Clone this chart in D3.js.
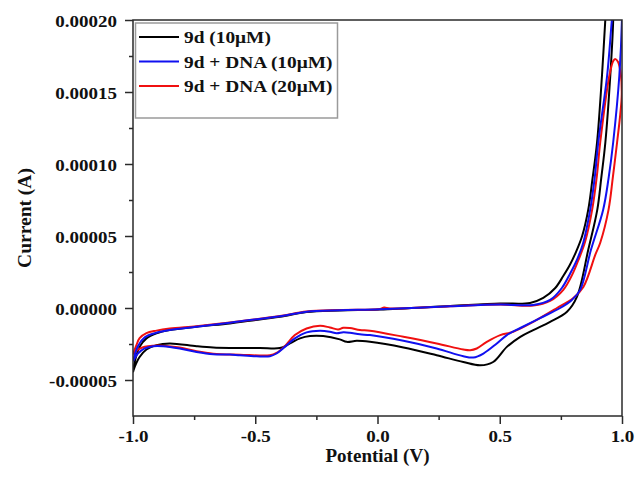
<!DOCTYPE html>
<html><head><meta charset="utf-8">
<script src="https://cdn.jsdelivr.net/npm/d3@7"></script>
<style>body{margin:0;background:#fff}svg{display:block}</style>
</head><body><div id="chart"></div>
<script>
// ---- data ----
const seriesNames = ["9d (10\u03bcM)", "9d + DNA (10\u03bcM)", "9d + DNA (20\u03bcM)"];
const seriesColors = ["#000000", "#1010f0", "#f01010"];
const xTicks = [-1.0, -0.5, 0.0, 0.5, 1.0];
const xTickLabels = ["-1.0", "-0.5", "0.0", "0.5", "1.0"];
const xMinor = [-0.75, -0.25, 0.25, 0.75];
const yTicks = [-0.00005, 0.0, 0.00005, 0.00010, 0.00015, 0.00020];
const yTickLabels = ["-0.00005", "0.00000", "0.00005", "0.00010", "0.00015", "0.00020"];
const yMinor = [-0.000025, 0.000025, 0.000075, 0.000125, 0.000175];

// [potential V, current A] loops: forward branch then reverse branch
const cv9d = [
 [-1.0,-4.46e-5],[-0.993,-3.75e-5],[-0.973,-2.70e-5],[-0.945,-2.11e-5],[-0.904,-1.76e-5],[-0.850,-1.53e-5],
 [-0.740,-1.30e-5],[-0.604,-1.07e-5],[-0.522,-0.89e-5],[-0.399,-0.61e-5],[-0.290,-0.28e-5],[-0.154,-0.17e-5],
 [0.010,-0.10e-5],[0.297,0.14e-5],[0.502,0.31e-5],[0.624,0.35e-5],[0.678,0.70e-5],[0.727,1.39e-5],
 [0.759,2.20e-5],[0.787,3.00e-5],[0.812,3.90e-5],[0.837,5.00e-5],[0.862,6.83e-5],[0.879,8.93e-5],[0.898,1.151e-4],[0.918,1.611e-4],
 [0.932,2.009e-4],[0.955,2.60e-4],[0.966,2.40e-4],[0.964,2.00e-4],[0.952,1.611e-4],[0.932,1.151e-4],
 [0.915,9.00e-5],[0.899,6.83e-5],[0.862,4.04e-5],[0.816,0.79e-5],[0.775,-0.26e-5],[0.706,-0.96e-5],[0.637,-1.53e-5],
 [0.584,-2.00e-5],[0.529,-2.70e-5],[0.473,-3.75e-5],[0.420,-3.98e-5],[0.351,-3.75e-5],[0.242,-3.28e-5],
 [0.106,-2.74e-5],[-0.031,-2.35e-5],[-0.085,-2.28e-5],[-0.126,-2.35e-5],[-0.154,-2.18e-5],[-0.222,-1.95e-5],
 [-0.276,-1.95e-5],[-0.317,-2.11e-5],[-0.358,-2.46e-5],[-0.399,-2.78e-5],[-0.481,-2.77e-5],[-0.604,-2.77e-5],
 [-0.672,-2.74e-5],[-0.740,-2.65e-5],[-0.850,-2.46e-5],[-0.904,-2.58e-5],[-0.945,-2.88e-5],[-0.973,-3.40e-5],
 [-0.993,-4.09e-5],[-1.0,-4.46e-5]
];
const cvDNA10 = [
 [-1.0,-3.70e-5],[-0.980,-2.65e-5],[-0.952,-2.04e-5],[-0.904,-1.72e-5],[-0.850,-1.53e-5],[-0.740,-1.30e-5],
 [-0.604,-1.03e-5],[-0.522,-0.84e-5],[-0.399,-0.58e-5],[-0.290,-0.26e-5],[-0.154,-0.16e-5],[0.010,-0.09e-5],
 [0.297,0.12e-5],[0.502,0.24e-5],[0.637,0.21e-5],[0.706,0.56e-5],[0.754,1.39e-5],[0.788,2.40e-5],
 [0.817,3.40e-5],[0.841,4.50e-5],[0.870,6.83e-5],[0.889,9.14e-5],[0.903,1.151e-4],[0.939,1.611e-4],[0.959,2.009e-4],
 [0.985,2.50e-4],[1.0,2.30e-4],[1.0,2.02e-4],[0.989,1.611e-4],[0.964,1.151e-4],[0.945,9.00e-5],[0.923,6.83e-5],
 [0.873,4.04e-5],[0.829,1.26e-5],[0.795,0.56e-5],[0.747,0.0],[0.665,-0.70e-5],[0.584,-1.39e-5],
 [0.529,-1.88e-5],[0.488,-2.46e-5],[0.433,-3.16e-5],[0.392,-3.44e-5],[0.351,-3.35e-5],[0.242,-2.81e-5],
 [0.106,-2.28e-5],[-0.031,-1.88e-5],[-0.072,-1.83e-5],[-0.113,-1.72e-5],[-0.140,-1.69e-5],[-0.167,-1.76e-5],
 [-0.195,-1.65e-5],[-0.235,-1.58e-5],[-0.290,-1.69e-5],[-0.338,-2.11e-5],[-0.379,-2.70e-5],[-0.413,-3.16e-5],
 [-0.440,-3.35e-5],[-0.495,-3.35e-5],[-0.563,-3.28e-5],[-0.604,-3.23e-5],[-0.672,-3.21e-5],[-0.740,-3.05e-5],
 [-0.809,-2.81e-5],[-0.877,-2.65e-5],[-0.918,-2.65e-5],[-0.952,-2.81e-5],[-0.980,-3.16e-5],[-1.0,-3.70e-5]
];
const cvDNA20 = [
 [-1.0,-3.21e-5],[-0.986,-2.58e-5],[-0.973,-2.09e-5],[-0.945,-1.74e-5],[-0.904,-1.57e-5],[-0.850,-1.43e-5],
 [-0.740,-1.26e-5],[-0.604,-1.01e-5],[-0.399,-0.56e-5],[-0.290,-0.24e-5],[-0.154,-0.14e-5],[0.010,-0.07e-5],
 [0.027,0.03e-5],[0.051,-0.03e-5],[0.297,0.12e-5],[0.502,0.24e-5],[0.637,0.17e-5],[0.706,0.49e-5],
 [0.760,1.26e-5],[0.796,2.30e-5],[0.821,3.30e-5],[0.849,4.60e-5],[0.878,6.83e-5],[0.897,9.14e-5],[0.911,1.151e-4],
 [0.948,1.611e-4],[0.964,1.716e-4],[0.972,1.730e-4],[0.984,1.709e-4],[0.995,1.625e-4],[0.999,1.485e-4],
 [0.993,1.346e-4],[0.980,1.151e-4],[0.963,9.14e-5],[0.945,6.83e-5],[0.911,4.53e-5],[0.891,3.70e-5],
 [0.842,1.46e-5],[0.801,0.70e-5],[0.734,0.0],[0.637,-0.96e-5],[0.555,-1.65e-5],[0.502,-1.88e-5],
 [0.447,-2.35e-5],[0.406,-2.81e-5],[0.379,-2.93e-5],[0.351,-2.88e-5],[0.242,-2.46e-5],[0.106,-2.00e-5],
 [-0.031,-1.58e-5],[-0.072,-1.53e-5],[-0.113,-1.39e-5],[-0.140,-1.37e-5],[-0.161,-1.49e-5],[-0.195,-1.35e-5],
 [-0.235,-1.23e-5],[-0.290,-1.42e-5],[-0.338,-1.88e-5],[-0.379,-2.65e-5],[-0.413,-3.12e-5],[-0.440,-3.28e-5],
 [-0.563,-3.24e-5],[-0.672,-3.17e-5],[-0.740,-3.00e-5],[-0.809,-2.75e-5],[-0.877,-2.62e-5],[-0.918,-2.62e-5],
 [-0.952,-2.69e-5],[-0.980,-2.89e-5],[-1.0,-3.21e-5]
];
const seriesData = [cv9d, cvDNA10, cvDNA20];
const drawOrder = [0, 2, 1];

// ---- layout ----
const W = 636, H = 479;
const L = 133, R = 622, T = 20, B = 416;
const svg = d3.select("#chart").append("svg").attr("width", W).attr("height", H)
  .style("font-family", "'Liberation Serif','Times New Roman',serif");
svg.append("rect").attr("width", W).attr("height", H).attr("fill", "#fff");

const x = d3.scaleLinear().domain([-1.0, 1.0]).range([L, R]);
const y = d3.scaleLinear().domain([-0.000075, 0.0002]).range([B, T]);

svg.append("clipPath").attr("id", "clip").append("rect")
  .attr("x", L).attr("y", T).attr("width", R - L).attr("height", B - T);

const line = d3.line().x(d => x(d[0])).y(d => y(d[1])).curve(d3.curveCatmullRom.alpha(0.5));
const g = svg.append("g").attr("clip-path", "url(#clip)");
drawOrder.forEach(i => {
  g.append("path").datum(seriesData[i]).attr("d", line)
    .attr("fill", "none").attr("stroke", seriesColors[i]).attr("stroke-width", 2)
    .attr("stroke-linejoin", "round");
});

// frame
const axisColor = "#2a2a2a";
svg.append("rect").attr("x", L).attr("y", T).attr("width", R - L).attr("height", B - T)
  .attr("fill", "none").attr("stroke", axisColor).attr("stroke-width", 1.5);

// axes
const xAxis = svg.append("g").attr("transform", `translate(0,${B})`)
  .call(d3.axisBottom(x).tickValues(xTicks).tickSize(8).tickPadding(0)
    .tickFormat((d, i) => xTickLabels[i]));
const xAxisMinor = svg.append("g").attr("transform", `translate(0,${B})`)
  .call(d3.axisBottom(x).tickValues(xMinor).tickSize(4).tickFormat(""));
const yAxis = svg.append("g").attr("transform", `translate(${L},0)`)
  .call(d3.axisLeft(y).tickValues(yTicks).tickSize(8)
    .tickFormat((d, i) => yTickLabels[i]));
const yAxisMinor = svg.append("g").attr("transform", `translate(${L},0)`)
  .call(d3.axisLeft(y).tickValues(yMinor).tickSize(4).tickFormat(""));

[xAxis, xAxisMinor, yAxis, yAxisMinor].forEach(a => {
  a.select(".domain").remove();
  a.selectAll(".tick line").attr("stroke", axisColor).attr("stroke-width", 1.5);
});

xAxis.selectAll(".tick text")
  .attr("y", null).attr("dy", null)
  .attr("transform", "translate(0,26) scale(1.15,1)")
  .attr("fill", "#111").attr("font-size", "16.5px").attr("font-weight", "bold")
  .attr("font-family", "'Liberation Serif',serif");
yAxis.selectAll(".tick text")
  .attr("x", null).attr("dy", null)
  .attr("transform", "translate(-16,6) scale(1.15,1)")
  .attr("fill", "#111").attr("font-size", "16.5px").attr("font-weight", "bold")
  .attr("font-family", "'Liberation Serif',serif");

// axis titles
svg.append("text").attr("x", (L + R) / 2).attr("y", 462).attr("text-anchor", "middle")
  .attr("font-size", "19px").attr("font-weight", "bold").attr("fill", "#111")
  .text("Potential (V)");
svg.append("text").attr("transform", `translate(31,${(T + B) / 2}) rotate(-90)`)
  .attr("text-anchor", "middle")
  .attr("font-size", "19.5px").attr("font-weight", "bold").attr("fill", "#111")
  .text("Current (A)");

// legend
const lg = svg.append("g");
lg.append("rect").attr("x", 135.5).attr("y", 23).attr("width", 202).attr("height", 95)
  .attr("fill", "#fff").attr("stroke", "#9a9a9a").attr("stroke-width", 1.5);
const legendY = [37, 61.5, 86];
seriesNames.forEach((n, i) => {
  lg.append("line").attr("x1", 139).attr("x2", 179).attr("y1", legendY[i]).attr("y2", legendY[i])
    .attr("stroke", seriesColors[i]).attr("stroke-width", 2);
  lg.append("text").attr("transform", `translate(184,${legendY[i] + 6}) scale(1.14,1)`)
    .attr("font-size", "17px").attr("font-weight", "bold").attr("fill", "#111")
    .text(n);
});
</script></body></html>
